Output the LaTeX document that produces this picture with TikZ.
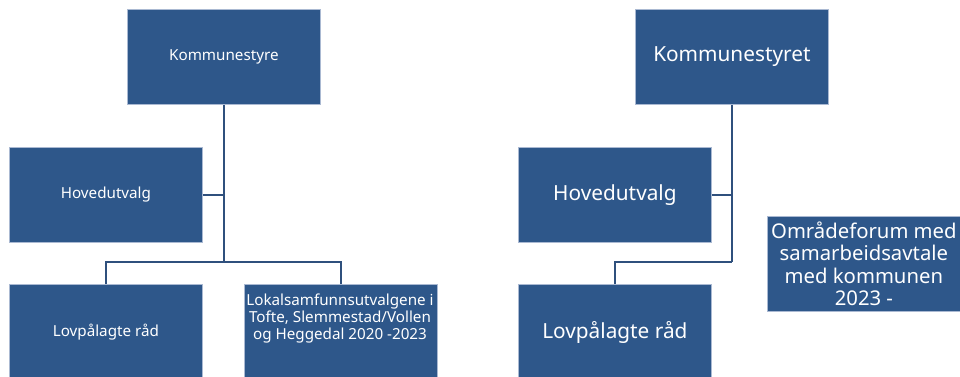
\documentclass[tikz,border=0pt]{standalone}
\usepackage{fontspec}
\setmainfont{Noto Sans}
\definecolor{boxblue}{RGB}{46,87,138}
\definecolor{boxedge}{RGB}{170,185,210}
\definecolor{linkblue}{RGB}{47,80,125}
\tikzset{
  orgbox/.style={fill=boxblue, draw=boxedge, line width=0.8pt, text=white,
    minimum width=193pt, minimum height=95pt, inner sep=1pt, align=center, anchor=north west},
  link/.style={draw=linkblue, line width=1.3pt},
  smalltext/.style={font=\fontsize{15.2}{17}\selectfont},
  bigtext/.style={font=\fontsize{20.8}{22.5}\selectfont},
}
\begin{document}
\begin{tikzpicture}[x=1pt,y=-1pt]
\useasboundingbox (0,0) rectangle (960,376);
\clip (0,0) rectangle (960,376);
% left chart
\node[orgbox, smalltext] (k1) at (127,9) {Kommunestyre};
\node[orgbox, smalltext] (h1) at (9,147) {Hovedutvalg};
\node[orgbox, smalltext, minimum height=96pt] (l1) at (9,284) {Lovpålagte råd};
\node[orgbox, minimum height=96pt] (s1) at (244,284) {};
\node[smalltext, text=white, align=center, anchor=north, inner sep=0pt] (s1t) at (340,294)
  {Lokalsamfunnsutvalgene i\\Tofte, Slemmestad/Vollen\\og Heggedal 2020 -2023};
\coordinate (j1) at (k1.south |- 0,262);
\draw[link] (k1.south) -- (j1);
\draw[link] (h1.east) -- (h1.east -| k1.south);
\draw[link] (l1.north) |- (j1) -| (s1.north);
% right chart
\node[orgbox, bigtext] (k2) at (635,9) {Kommunestyret};
\node[orgbox, bigtext] (h2) at (518,147) {Hovedutvalg};
\node[orgbox, bigtext, minimum height=96pt] (l2) at (518,284) {Lovpålagte råd};
\node[orgbox, font=\fontsize{20.3}{22.5}\selectfont, minimum height=95pt] (o2) at (767,216)
  {Områdeforum med\\samarbeidsavtale\\med kommunen\\2023 -};
\coordinate (j2) at (k2.south |- 0,262);
\draw[link] (k2.south) -- (j2);
\draw[link] (h2.east) -- (h2.east -| k2.south);
\draw[link] (l2.north) |- (j2);
\end{tikzpicture}
\end{document}
